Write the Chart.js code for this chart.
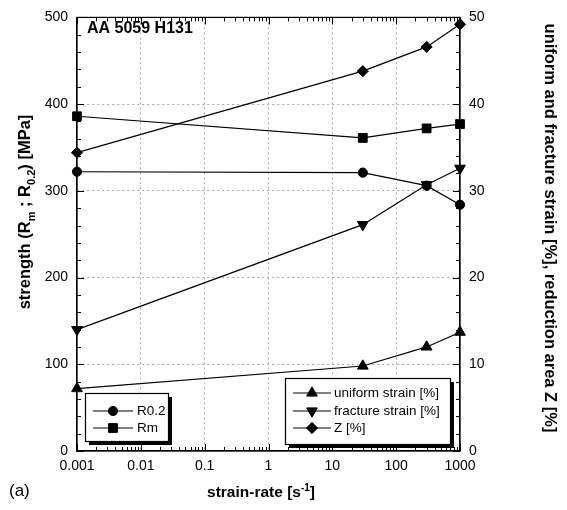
<!DOCTYPE html>
<html>
<head>
<meta charset="utf-8">
<script src="https://cdn.jsdelivr.net/npm/chart.js@4/dist/chart.umd.min.js"></script>
<style>
  html, body { margin: 0; padding: 0; background: #fff; }
  #wrap { width: 567px; height: 510px; position: relative; }
</style>
</head>
<body>
<div id="wrap"><canvas id="strainChart" width="567" height="510"></canvas></div>
<script>
// ---- data ----
const strainRates = [0.001, 30, 300, 1000];
const r02 = [322, 321, 306, 284];             // MPa
const rm = [386, 361, 372, 377];              // MPa
const uniformStrain = [7.2, 9.8, 12.0, 13.7]; // %
const fractureStrain = [14.0, 26.1, 30.7, 32.6];
const reductionZ = [34.4, 43.8, 46.6, 49.2];

const xTickValues = [0.001, 0.01, 0.1, 1, 10, 100, 1000];
const xTickLabels = ['0.001', '0.01', '0.1', '1', '10', '100', '1000'];

const FONT = '"Liberation Sans", Arial, Helvetica, sans-serif';

function pts(values) {
    return strainRates.map((x, i) => ({ x: x, y: values[i] }));
}

function series(label, values, axis, style, radius, rotation) {
    return {
        label: label,
        data: pts(values),
        yAxisID: axis,
        borderColor: '#000',
        borderWidth: 1.2,
        backgroundColor: '#000',
        pointStyle: style,
        pointRadius: radius,
        pointRotation: rotation || 0,
        pointBackgroundColor: '#000',
        pointBorderColor: '#000',
        pointBorderWidth: 1,
        pointHoverRadius: radius,
        fill: false,
        tension: 0,
        clip: false
    };
}

const datasets = [
    series('R0.2', r02, 'y', 'circle', 4.6),
    series('Rm', rm, 'y', 'rect', 6.2),
    series('uniform strain [%]', uniformStrain, 'y2', 'triangle', 6.2),
    series('fracture strain [%]', fractureStrain, 'y2', 'triangle', 6.2, 180),
    series('Z [%]', reductionZ, 'y2', 'rectRot', 5.6)
];

// gridline colour: dotted grey inside, nothing on the frame
function innerGrid(ctx) {
    const ticks = ctx.scale.ticks;
    if (ctx.index === 0 || ctx.index === ticks.length - 1) return 'rgba(0,0,0,0)';
    return '#a8a8a8';
}

// ---- custom drawing: frame, inside ticks, titles, legends ----
function drawMarker(c, style, radius, rotation, x, y) {
    c.fillStyle = '#000';
    c.strokeStyle = '#000';
    c.lineWidth = 1;
    Chart.helpers.drawPoint(c, { pointStyle: style, radius: radius, rotation: rotation || 0, borderWidth: 1 }, x, y);
}

function drawLegendBox(c, x, y, w, h, rows, rowY, lineX0, lineX1, textX) {
    c.save();
    c.setLineDash([]);
    c.fillStyle = '#000';
    c.fillRect(x + 4, y + 4, w, h);          // drop shadow
    c.fillStyle = '#fff';
    c.fillRect(x, y, w, h);
    c.strokeStyle = '#000';
    c.lineWidth = 1.2;
    c.strokeRect(x + 0.5, y + 0.5, w, h);
    c.font = '13.5px ' + FONT;
    c.textBaseline = 'middle';
    c.textAlign = 'left';
    rows.forEach((ds, i) => {
        const yy = rowY[i];
        c.beginPath();
        c.moveTo(lineX0, yy);
        c.lineTo(lineX1, yy);
        c.lineWidth = 1.2;
        c.strokeStyle = '#000';
        c.stroke();
        drawMarker(c, ds.pointStyle, ds.pointRadius, ds.pointRotation, (lineX0 + lineX1) / 2, yy);
        c.fillStyle = '#000';
        c.fillText(ds.label, textX, yy + 0.5);
    });
    c.restore();
}

// draws a run of [text, kind] pieces, kind: 'n' normal, 'sub', 'sup'
function drawRichText(c, pieces, size, cx, cy) {
    const small = Math.round(size * 0.65);
    let total = 0;
    pieces.forEach(p => {
        c.font = 'bold ' + (p[1] === 'n' ? size : small) + 'px ' + FONT;
        total += c.measureText(p[0]).width;
    });
    let x = cx - total / 2;
    c.textBaseline = 'alphabetic';
    c.textAlign = 'left';
    pieces.forEach(p => {
        c.font = 'bold ' + (p[1] === 'n' ? size : small) + 'px ' + FONT;
        let dy = 0;
        if (p[1] === 'sub') dy = size * 0.3;
        if (p[1] === 'sup') dy = -size * 0.4;
        c.fillText(p[0], x, cy + size * 0.35 + dy);
        x += c.measureText(p[0]).width;
    });
}

const decorPlugin = {
    id: 'decor',
    afterDatasetsDraw(chart) {
        const c = chart.ctx;
        const a = chart.chartArea;
        const xs = chart.scales.x, ys = chart.scales.y, y2 = chart.scales.y2;
        c.save();
        c.setLineDash([]);
        c.strokeStyle = '#000';
        c.lineWidth = 1.2;
        c.strokeRect(a.left, a.top, a.right - a.left, a.bottom - a.top);

        // inside ticks, left and right
        c.lineWidth = 1;
        c.beginPath();
        for (let v = 0; v <= 500; v += 20) {
            const py = Math.round(ys.getPixelForValue(v)) + 0.5;
            const len = v % 100 === 0 ? 7 : 4;
            c.moveTo(a.left, py); c.lineTo(a.left + len, py);
        }
        for (let v = 0; v <= 50; v += 2) {
            const py = Math.round(y2.getPixelForValue(v)) + 0.5;
            const len = v % 10 === 0 ? 7 : 4;
            c.moveTo(a.right, py); c.lineTo(a.right - len, py);
        }
        // inside ticks, bottom and top (log decades with minors)
        for (let e = -3; e <= 3; e++) {
            for (let m = 1; m <= 9; m++) {
                const v = m * Math.pow(10, e);
                if (v > 1000.0001) break;
                const px = Math.round(xs.getPixelForValue(v)) + 0.5;
                const len = m === 1 ? 7 : 4;
                c.moveTo(px, a.bottom); c.lineTo(px, a.bottom - len);
                c.moveTo(px, a.top); c.lineTo(px, a.top + len);
            }
        }
        c.stroke();

        // panel label in the plot
        c.fillStyle = '#000';
        c.font = 'bold 16px ' + FONT;
        c.textBaseline = 'middle';
        c.textAlign = 'left';
        c.fillText('AA 5059 H131', 87, 29);

        // left axis title with subscripts
        c.save();
        c.translate(24, 212);
        c.rotate(-Math.PI / 2);
        drawRichText(c, [['strength (R', 'n'], ['m', 'sub'], [' ; R', 'n'], ['0.2', 'sub'], [') [MPa]', 'n']], 16.5, 0, 0);
        c.restore();

        // right axis title
        c.save();
        c.translate(550, 228);
        c.rotate(Math.PI / 2);
        c.font = 'bold 16.5px ' + FONT;
        c.textAlign = 'center';
        c.textBaseline = 'middle';
        c.fillText('uniform and fracture strain [%], reduction area Z [%]', 0, 0);
        c.restore();

        // x title with superscript
        drawRichText(c, [['strain-rate [s', 'n'], ['-1', 'sup'], [']', 'n']], 15.5, 261, 492);

        // figure label
        c.font = '17px ' + FONT;
        c.textAlign = 'left';
        c.textBaseline = 'middle';
        c.fillText('(a)', 9, 491);
        c.restore();

        // legends
        const ds = chart.data.datasets;
        drawLegendBox(c, 85, 393, 83, 48, [ds[0], ds[1]], [411, 428], 93, 133, 137);
        drawLegendBox(c, 285, 378, 165, 66, [ds[2], ds[3], ds[4]], [393, 411, 428], 293, 331, 334);
    }
};

document.addEventListener('DOMContentLoaded', function() {
    const ctx = document.getElementById('strainChart').getContext('2d');
    new Chart(ctx, {
        type: 'line',
        data: { datasets: datasets },
        plugins: [decorPlugin],
        options: {
            responsive: false,
            animation: false,
            layout: { padding: { top: 12, left: 0, right: 0, bottom: 0 } },
            plugins: {
                legend: { display: false },
                tooltip: { enabled: false }
            },
            scales: {
                x: {
                    type: 'logarithmic',
                    min: 0.001,
                    max: 1000,
                    afterBuildTicks: (scale) => {
                        scale.ticks = xTickValues.map(v => ({ value: v }));
                    },
                    afterFit: (scale) => { scale.height = 59; },
                    ticks: {
                        autoSkip: false,
                        maxRotation: 0,
                        padding: 7,
                        color: '#000',
                        font: { family: FONT, size: 14 },
                        callback: (value) => {
                            const i = xTickValues.findIndex(v => Math.abs(v - value) < value * 1e-6);
                            return i >= 0 ? xTickLabels[i] : '';
                        }
                    },
                    grid: { color: innerGrid, lineWidth: 1, drawTicks: false },
                    border: { display: true, color: '#000', width: 1.2, dash: [2, 3] }
                },
                y: {
                    position: 'left',
                    min: 0,
                    max: 500,
                    afterFit: (scale) => { scale.width = 77; },
                    ticks: {
                        stepSize: 100,
                        padding: 9,
                        color: '#000',
                        font: { family: FONT, size: 14 }
                    },
                    grid: { color: innerGrid, lineWidth: 1, drawTicks: false },
                    border: { display: true, color: '#000', width: 1.2, dash: [2, 3] }
                },
                y2: {
                    position: 'right',
                    min: 0,
                    max: 50,
                    afterFit: (scale) => { scale.width = 107; },
                    ticks: {
                        stepSize: 10,
                        padding: 9,
                        color: '#000',
                        font: { family: FONT, size: 14 }
                    },
                    grid: { drawOnChartArea: false, drawTicks: false },
                    border: { display: true, color: '#000', width: 1.2 }
                }
            }
        }
    });
});
</script>
</body>
</html>
